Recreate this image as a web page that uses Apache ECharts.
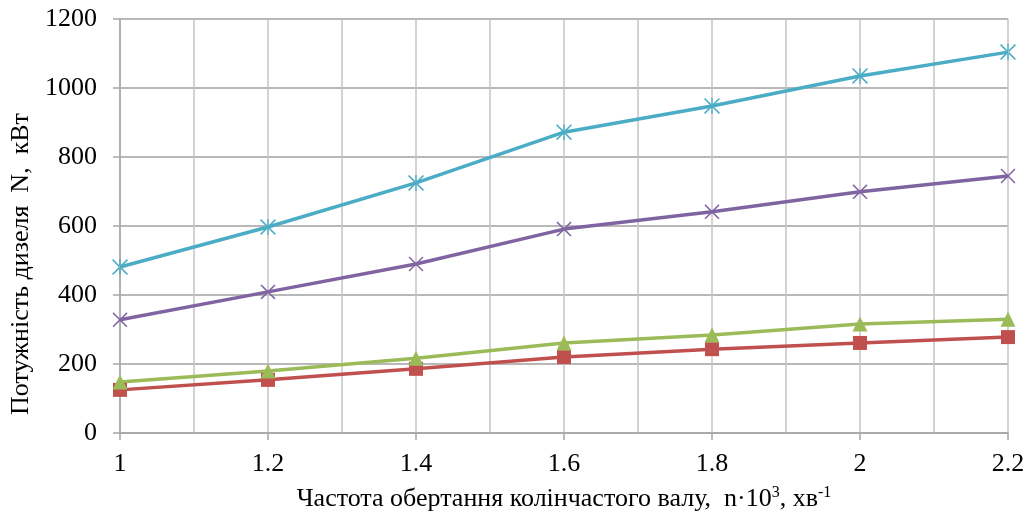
<!DOCTYPE html>
<html><head><meta charset="utf-8">
<script src="https://cdn.jsdelivr.net/npm/echarts@6/dist/echarts.min.js"></script>
<style>html,body{margin:0;padding:0;background:#fff}#c{width:1033px;height:521px}</style>
</head><body><div id="c"></div>
<script>
const xValues = [1, 1.2, 1.4, 1.6, 1.8, 2, 2.2];
const seriesCyan = [481, 597, 725, 872, 948, 1035, 1104];
const seriesPurple = [328, 409, 490, 591, 641, 699, 745];
const seriesGreen = [148, 180, 217, 261, 284, 316, 330];
const seriesRed = [125, 154, 186, 220, 243, 261, 278];
const yTicks = [0, 200, 400, 600, 800, 1000, 1200];

const pair = arr => xValues.map((x, i) => [x, arr[i]]);
const FONT = '"Liberation Serif", "Times New Roman", serif';
const xPath = 'path://M0,1.4 L1.4,0 L10,8.6 L18.6,0 L20,1.4 L11.4,10 L20,18.6 L18.6,20 L10,11.4 L1.4,20 L0,18.6 L8.6,10 Z';
const starPath = 'path://M0,1.4 L1.4,0 L10,8.6 L18.6,0 L20,1.4 L11.4,10 L20,18.6 L18.6,20 L10,11.4 L1.4,20 L0,18.6 L8.6,10 Z M9.2,0 L9.2,20 L10.8,20 L10.8,0 Z';

function mk(name, data, color, symbol, size) {
  return {
    name, type: 'line', data: pair(data), symbol, symbolSize: size,
    lineStyle: { color, width: 3.5 }, itemStyle: { color, borderWidth: 0 },
    showSymbol: true, animation: false, z: 3
  };
}

const chart = echarts.init(document.getElementById('c'), null, { renderer: 'canvas' });
chart.setOption({
  animation: false,
  backgroundColor: '#fff',
  grid: { left: 120, right: 25, top: 19, bottom: 88, containLabel: false, outerBoundsMode: 'none' },
  xAxis: {
    type: 'value', min: 1, max: 2.2, interval: 0.2,
    axisLine: { show: true, onZero: false, lineStyle: { color: '#a6a6a6', width: 1.5 } },
    axisTick: { show: true, length: 7, lineStyle: { color: '#a6a6a6', width: 1.5 } },
    axisLabel: {
      color: '#000', fontFamily: FONT, fontSize: 26, margin: 18,
      formatter: v => String(+v.toFixed(1))
    },
    splitLine: { show: true, lineStyle: { color: '#c4c4c4', width: 1.5 } },
    minorTick: { show: false, splitNumber: 2 },
    minorSplitLine: { show: true, lineStyle: { color: '#c4c4c4', width: 1.5 } },
    name: '{n|Частота обертання колінчастого валу,  n·10}{s|3}{n|, хв}{s|-1}',
    nameLocation: 'middle', nameGap: 52,
    nameTextStyle: {
      rich: {
        n: { fontFamily: FONT, fontSize: 26, color: '#000' },
        s: { fontFamily: FONT, fontSize: 16, color: '#000', verticalAlign: 'top', padding: [0, 0, 12, 0] }
      }
    }
  },
  yAxis: {
    type: 'value', min: 0, max: 1200, interval: 200,
    axisLine: { show: true, lineStyle: { color: '#a6a6a6', width: 1.5 } },
    axisTick: { show: true, length: 7, lineStyle: { color: '#a6a6a6', width: 1.5 } },
    axisLabel: { color: '#000', fontFamily: FONT, fontSize: 26, margin: 23,
      formatter: v => yTicks.includes(v) ? String(v) : '' },
    splitLine: { show: true, lineStyle: { color: '#a0a0a0', width: 1.5 } },
    name: 'Потужність дизеля  N,  кВт',
    nameLocation: 'middle', nameGap: 81, nameRotate: 90,
    nameTextStyle: { fontFamily: FONT, fontSize: 26, color: '#000', padding: [0, 76, 0, 0] }
  },
  series: [
    mk('red', seriesRed, '#c0504d', 'rect', 14),
    mk('green', seriesGreen, '#9bbb59', 'triangle', 15),
    mk('purple', seriesPurple, '#8064a2', xPath, 15),
    mk('cyan', seriesCyan, '#4bacc6', starPath, 16)
  ]
});
</script></body></html>
